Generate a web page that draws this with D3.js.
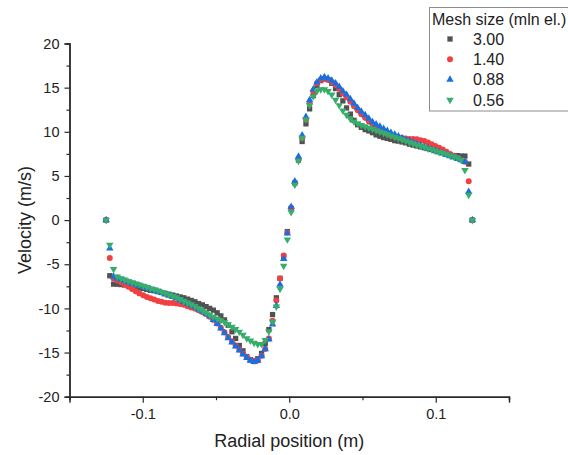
<!DOCTYPE html>
<html>
<head>
<meta charset="utf-8">
<script src="https://cdn.jsdelivr.net/npm/d3@7"></script>
<style>
  body { margin: 0; background: #fff; }
  text { font-family: "Liberation Sans", Arial, sans-serif; fill: #222; }
</style>
</head>
<body>
<div id="main"></div>
<script>
// radial probe positions (m)
const radialPos = [
  -0.1250,-0.1225,-0.1199,-0.1174,-0.1149,-0.1124,-0.1098,-0.1073,-0.1048,-0.1023,
  -0.0997,-0.0972,-0.0947,-0.0922,-0.0896,-0.0871,-0.0846,-0.0821,-0.0795,-0.0770,
  -0.0745,-0.0720,-0.0694,-0.0669,-0.0644,-0.0619,-0.0593,-0.0568,-0.0543,-0.0518,
  -0.0492,-0.0467,-0.0442,-0.0417,-0.0391,-0.0366,-0.0341,-0.0316,-0.0290,-0.0265,
  -0.0240,-0.0215,-0.0189,-0.0164,-0.0139,-0.0114,-0.0088,-0.0063,-0.0038,-0.0013,
  0.0013,0.0038,0.0063,0.0088,0.0114,0.0139,0.0164,0.0189,0.0215,0.0240,
  0.0265,0.0290,0.0316,0.0341,0.0366,0.0391,0.0417,0.0442,0.0467,0.0492,
  0.0518,0.0543,0.0568,0.0593,0.0619,0.0644,0.0669,0.0694,0.0720,0.0745,
  0.0770,0.0795,0.0821,0.0846,0.0871,0.0896,0.0922,0.0947,0.0972,0.0997,
  0.1023,0.1048,0.1073,0.1098,0.1124,0.1149,0.1174,0.1199,0.1225,0.1250
];

// velocity (m/s) per mesh size
const vel300 = [
  0,-6.3,-7.25,-7.25,-7.3,-7.35,-7.45,-7.5,-7.6,-7.7,
  -7.75,-7.85,-7.95,-8.0,-8.1,-8.2,-8.3,-8.4,-8.5,-8.6,
  -8.7,-8.8,-8.95,-9.1,-9.25,-9.45,-9.6,-9.8,-10.0,-10.2,
  -10.5,-10.85,-11.3,-11.9,-12.65,-13.4,-14.2,-14.8,-15.45,-15.8,
  -15.95,-15.7,-15.1,-14.0,-12.4,-10.7,-8.8,-6.6,-4.1,-1.3,
  1.3,4.2,6.8,8.9,10.9,12.6,14.1,15.2,15.8,16.0,
  15.9,15.5,14.9,14.2,13.5,12.7,12.0,11.3,10.8,10.5,
  10.25,10.1,9.9,9.65,9.5,9.35,9.25,9.15,9.0,8.95,
  8.85,8.75,8.6,8.5,8.4,8.3,8.2,8.1,8.0,7.85,
  7.75,7.65,7.5,7.4,7.3,7.3,7.25,7.25,6.35,0
];
const vel140 = [
  0,-4.3,-6.6,-6.85,-7.05,-7.3,-7.55,-7.8,-8.05,-8.3,
  -8.5,-8.7,-8.85,-9.0,-9.15,-9.25,-9.35,-9.4,-9.4,-9.45,
  -9.5,-9.6,-9.75,-9.9,-10.0,-10.2,-10.4,-10.65,-10.95,-11.3,
  -11.7,-12.2,-12.7,-13.25,-13.75,-14.2,-14.65,-15.1,-15.5,-15.85,
  -16.0,-15.9,-15.35,-14.6,-13.4,-11.4,-9.1,-6.6,-4.0,-1.4,
  1.4,4.2,6.9,9.3,11.4,13.2,14.6,15.5,15.9,16.0,
  15.9,15.65,15.3,14.85,14.35,13.9,13.4,12.9,12.45,12.0,
  11.6,11.2,10.85,10.55,10.25,10.0,9.8,9.6,9.45,9.35,
  9.3,9.25,9.2,9.2,9.15,9.05,8.95,8.8,8.6,8.4,
  8.2,8.0,7.75,7.5,7.3,7.05,6.85,6.6,4.4,0
];
const vel088 = [
  0,-3.2,-6.4,-6.6,-6.75,-6.9,-7.05,-7.2,-7.3,-7.45,
  -7.6,-7.7,-7.85,-7.95,-8.1,-8.25,-8.4,-8.55,-8.7,-8.85,
  -9.05,-9.25,-9.45,-9.65,-9.85,-10.1,-10.35,-10.6,-10.9,-11.3,
  -11.75,-12.25,-12.8,-13.35,-13.85,-14.3,-14.75,-15.2,-15.6,-15.9,
  -16.05,-15.9,-15.4,-14.6,-13.5,-11.8,-9.7,-7.3,-4.4,-1.5,
  1.5,4.4,7.2,9.6,11.7,13.6,14.8,15.6,16.05,16.2,
  16.05,15.8,15.5,15.1,14.6,14.2,13.7,13.2,12.7,12.3,
  11.9,11.5,11.1,10.85,10.6,10.35,10.1,9.9,9.7,9.5,
  9.3,9.1,8.95,8.8,8.6,8.45,8.3,8.15,8.0,7.85,
  7.7,7.55,7.4,7.25,7.1,6.95,6.8,6.6,3.2,0
];
const vel056 = [
  0,-2.8,-5.55,-6.4,-6.6,-6.75,-6.9,-7.05,-7.2,-7.3,
  -7.45,-7.6,-7.75,-7.85,-8.0,-8.15,-8.3,-8.45,-8.6,-8.75,
  -8.95,-9.15,-9.35,-9.55,-9.75,-10.0,-10.25,-10.5,-10.75,-10.95,
  -11.15,-11.35,-11.55,-11.8,-12.1,-12.35,-12.65,-13.0,-13.4,-13.65,
  -13.9,-14.05,-14.05,-13.6,-12.6,-11.5,-9.8,-7.8,-5.2,-2.2,
  0.9,4.0,6.7,9.3,11.4,13.0,14.0,14.6,14.8,14.8,
  14.6,14.2,13.6,13.0,12.4,11.9,11.45,11.15,10.95,10.75,
  10.6,10.45,10.3,10.15,10.0,9.85,9.7,9.55,9.4,9.25,
  9.1,8.95,8.8,8.65,8.5,8.4,8.25,8.1,8.0,7.85,
  7.7,7.6,7.45,7.3,7.2,7.05,6.8,5.65,2.85,0
];

const seriesNames = ['3.00', '1.40', '0.88', '0.56'];
const seriesValues = [vel300, vel140, vel088, vel056];
const xTicks = [-0.1, 0.0, 0.1];
const xMinorTicks = [-0.15, -0.05, 0.05, 0.15];
const yTicks = [-20, -15, -10, -5, 0, 5, 10, 15, 20];
const yMinorTicks = [-17.5, -12.5, -7.5, -2.5, 2.5, 7.5, 12.5, 17.5];

const colors = ['#515151', '#F14040', '#1A6FDF', '#37AD6B'];
const symbols = [d3.symbolSquare, d3.symbolCircle, d3.symbolTriangle, d3.symbolTriangle];
const symSizes = [28, 28, 24, 24];
const rotations = [0, 0, 0, 180];

const width = 568, height = 455;
const margin = { left: 69.5, right: 59, top: 43.5, bottom: 58.3 };

const svg = d3.select('#main')
  .append('svg')
  .attr('width', width)
  .attr('height', height);

const xScale = d3.scaleLinear()
  .domain([-0.15, 0.15])
  .range([margin.left, width - margin.right]);

const yScale = d3.scaleLinear()
  .domain([-20, 20])
  .range([height - margin.bottom, margin.top]);

// axes
const xAxis = svg.append('g')
  .attr('transform', `translate(0, ${height - margin.bottom})`)
  .call(d3.axisBottom(xScale).tickValues(xTicks).tickSize(6).tickPadding(6)
    .tickFormat(d => d.toFixed(1)));
const xMinor = svg.append('g')
  .attr('transform', `translate(0, ${height - margin.bottom})`)
  .call(d3.axisBottom(xScale).tickValues(xMinorTicks).tickSize(3.5).tickFormat(''));

const yAxis = svg.append('g')
  .attr('transform', `translate(${margin.left}, 0)`)
  .call(d3.axisLeft(yScale).tickValues(yTicks).tickSize(5).tickPadding(5)
    .tickFormat(d => String(d)));
const yMinor = svg.append('g')
  .attr('transform', `translate(${margin.left}, 0)`)
  .call(d3.axisLeft(yScale).tickValues(yMinorTicks).tickSize(3).tickFormat(''));

[xAxis, xMinor, yAxis, yMinor].forEach(a => {
  a.select('.domain').attr('stroke', '#2a2a2a').attr('stroke-width', 1.4);
  a.selectAll('.tick line').attr('stroke', '#2a2a2a').attr('stroke-width', 1.2);
  a.selectAll('.tick text')
    .attr('font-size', 14.5)
    .attr('font-family', '"Liberation Sans", Arial, sans-serif')
    .attr('fill', '#222');
});

// axis titles
svg.append('text')
  .attr('x', (xScale(-0.15) + xScale(0.15)) / 2)
  .attr('y', 447)
  .attr('text-anchor', 'middle')
  .attr('font-size', 18)
  .text('Radial position (m)');

svg.append('text')
  .attr('transform', `translate(31, ${yScale(0)}) rotate(-90)`)
  .attr('text-anchor', 'middle')
  .attr('font-size', 18)
  .text('Velocity (m/s)');

// scatter points
seriesValues.forEach((vals, s) => {
  svg.append('g')
    .selectAll('path')
    .data(vals.map((v, i) => [radialPos[i], v]))
    .enter()
    .append('path')
    .attr('d', d3.symbol().type(symbols[s]).size(symSizes[s]))
    .attr('transform', d => `translate(${xScale(d[0])}, ${yScale(d[1])}) rotate(${rotations[s]})`)
    .attr('fill', colors[s]);
});

// legend
const legend = svg.append('g');
legend.append('rect')
  .attr('x', 429.5)
  .attr('y', 7.5)
  .attr('width', 150)
  .attr('height', 103.5)
  .attr('fill', '#fff')
  .attr('stroke', '#8c8c8c')
  .attr('stroke-width', 1);
legend.append('text')
  .attr('x', 432)
  .attr('y', 24.5)
  .attr('font-size', 16)
  .text('Mesh size (mln el.)');

seriesNames.forEach((name, i) => {
  const cy = 39 + i * 20.3;
  legend.append('path')
    .attr('d', d3.symbol().type(symbols[i]).size(symSizes[i]))
    .attr('transform', `translate(450, ${cy}) rotate(${rotations[i]})`)
    .attr('fill', colors[i]);
  legend.append('text')
    .attr('x', 473)
    .attr('y', cy + 5.8)
    .attr('font-size', 16)
    .text(name);
});
</script>
</body>
</html>
